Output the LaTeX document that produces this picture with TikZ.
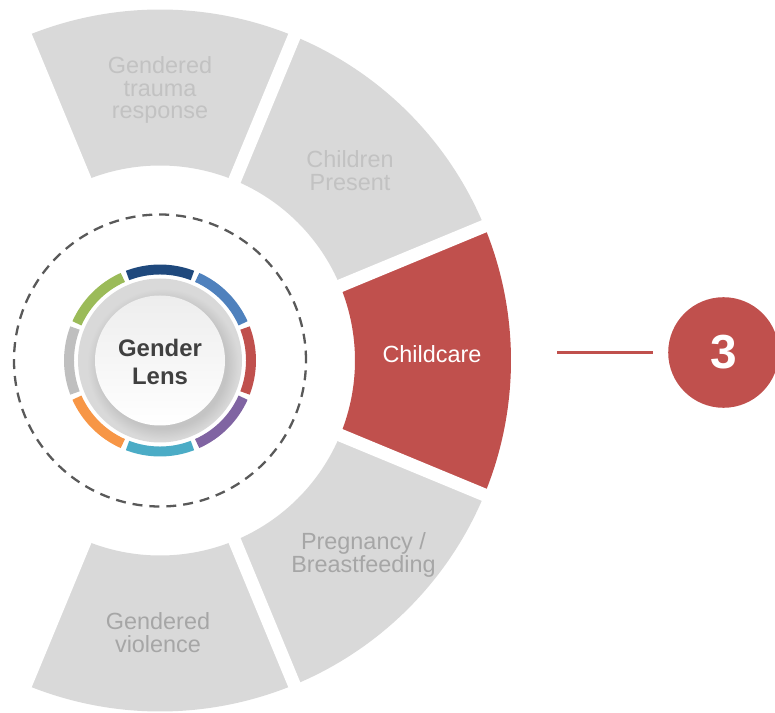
\documentclass[tikz,border=0pt]{standalone}
\usepackage{fontspec}
\setmainfont{Liberation Sans}
\usetikzlibrary{calc}
\definecolor{seggrey}{HTML}{D9D9D9}
\definecolor{segred}{HTML}{C0504D}
\definecolor{fadetxt}{HTML}{C2C2C2}
\definecolor{dimtxt}{HTML}{A6A6A6}
\definecolor{lensgrey}{HTML}{D9D9D9}
\definecolor{lensshade}{HTML}{C4C4C4}
\definecolor{lenstxt}{HTML}{404040}
\definecolor{dashgrey}{HTML}{595959}
\definecolor{ringA}{HTML}{1F497D}
\definecolor{ringB}{HTML}{4F81BD}
\definecolor{ringC}{HTML}{C0504D}
\definecolor{ringD}{HTML}{8064A2}
\definecolor{ringE}{HTML}{4BACC6}
\definecolor{ringF}{HTML}{F79646}
\definecolor{ringG}{HTML}{BFBFBF}
\definecolor{ringH}{HTML}{9BBB59}
\pgfdeclareradialshading{lensshadow}{\pgfpoint{0bp}{0bp}}{%
  color(0bp)=(lensshade); color(21bp)=(lensshade);
  color(25bp)=(lensgrey); color(50bp)=(lensgrey)}
\tikzset{%
  inner sep=0pt,%
  outer sep=0pt,%
  gapline/.style={white,line width=13pt},%
  ringarc/.style={line width=10pt},%
  seglabel/.style={font=\fontsize{23.5}{23}\selectfont,align=center},%
  lead/.style={segred,line width=2.5pt,shorten >=15pt},%
  numcirc/.style={circle,fill=segred,minimum size=111pt,text=white,
    font=\fontsize{48}{48}\selectfont\bfseries}%
}

\begin{document}
\begin{tikzpicture}[x=1bp,y=1bp] % LENS

\def\Rin{195}
\def\Rout{351}

\useasboundingbox (-160,-352.5) rectangle (615,360.5);

\foreach \a/\f in {90/seggrey,45/seggrey,0/segred,-45/seggrey,-90/seggrey}{
  \pgfmathsetmacro\s{\a-22.5}
  \pgfmathsetmacro\e{\a+22.5}
  \fill[\f] (\s:\Rin) arc[start angle=\s,end angle=\e,radius=\Rin]
    -- (\e:\Rout) arc[start angle=\e,end angle=\s,radius=\Rout] -- cycle;
}
\foreach \a in {-112.5,-67.5,...,112.5}
  \draw[gapline] (\a:185) -- (\a:362);

\draw[dashgrey,line width=2.3pt,dash pattern=on 10pt off 7pt] (0,0) circle[radius=146];

\foreach \a/\c in {90/ringA,45/ringB,0/ringC,-45/ringD,-90/ringE,-135/ringF,180/ringG,135/ringH}{
  \pgfmathsetmacro\s{\a+20.9}
  \pgfmathsetmacro\e{\a-20.9}
  \draw[ringarc,\c] (\s:91) arc[start angle=\s,end angle=\e,radius=91];
}

\fill[lensgrey] (0,0) circle[radius=82];
\shade[shading=lensshadow] (3,-4) circle[radius=76];
\shade[top color=black!7,bottom color=white] (0,0) circle[radius=65];

\node[font=\fontsize{24}{28}\selectfont\bfseries,align=center,text=lenstxt] (lens) at (0,-1.5) {Gender\\Lens};

\node[seglabel,text=fadetxt] (trauma) at (0,270.5) {Gendered\\trauma\\response};
\node[seglabel,text=fadetxt] (children) at (190,190) {Children\\Present};
\node[seglabel,text=white] (cc) at (272,6) {Childcare};
\node[seglabel,text=dimtxt] (preg) at (203.5,-194) {Pregnancy /\\Breastfeeding};
\node[seglabel,text=dimtxt] (viol) at (-2,-272.5) {Gendered\\violence};

\node[numcirc] (num) at (563.5,8) {3};
\coordinate (tail) at (397,8);
\draw[lead] (tail) -- (num);

\end{tikzpicture}
\end{document}
